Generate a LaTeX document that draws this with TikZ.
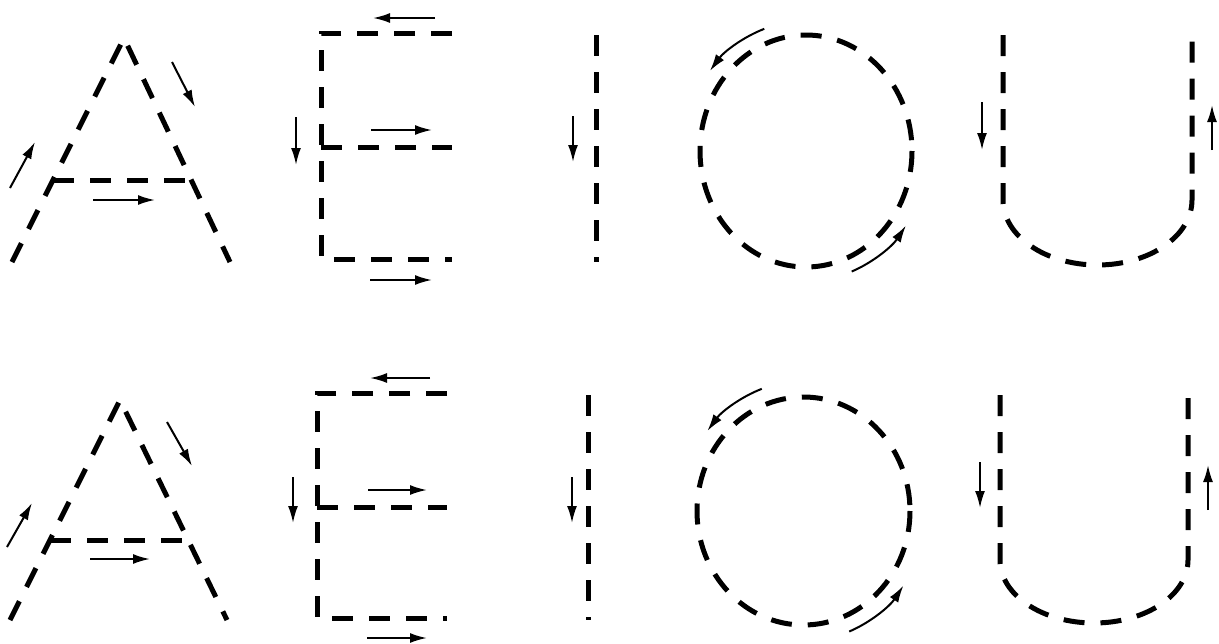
\documentclass[tikz,border=0pt]{standalone}
\usetikzlibrary{arrows.meta, calc}

\begin{document}
\begin{tikzpicture}[
  x=1pt, y=-1pt,
  letter/.style={line width=5pt, dash pattern=on 21pt off 16pt},
  dirarrow/.style={-{Latex[length=17pt, width=10pt]}, line width=2pt},
]
  \useasboundingbox (0,0) rectangle (1219,643);

  % Top row: A
  \draw[letter] (12,262) -- (124,38) -- (230,262);
  \draw[letter] (53,180) -- (191,180);
  \draw[dirarrow] (10,188) -- (35,142);
  \draw[dirarrow] (172,62) -- (195,107);
  \draw[dirarrow] (93,200) -- (155,200);

  % Top row: E
  \draw[letter] (452,33) -- (321,33) -- (321,259) -- (452,259);
  \draw[letter] (321,147) -- (452,147);
  \draw[dirarrow] (435,18) -- (373,18);
  \draw[dirarrow] (371,130) -- (432,130);
  \draw[dirarrow] (370,280) -- (432,280);
  \draw[dirarrow] (296,117) -- (296,165);

  % Top row: I
  \draw[letter] (596,35) -- (596,262);
  \draw[dirarrow] (573,116) -- (573,162);

  % Top row: O
  \coordinate (otop) at (806,151);
  \draw[letter] (otop) ellipse[x radius=106, y radius=116];
  \draw[dirarrow] ($(otop)+(250:122 and 130)$) arc[start angle=250, end angle=218, x radius=122, y radius=130];
  \draw[dirarrow] ($(otop)+(68:122 and 130)$) arc[start angle=68, end angle=35, x radius=122, y radius=130];

  % Top row: U
  \draw[letter] (1003,35) -- (1003,200) arc[start angle=180, end angle=0, x radius=94.5, y radius=65] -- (1192,35);
  \draw[dirarrow] (982,102) -- (982,150);
  \draw[dirarrow] (1212,150) -- (1212,105);

  % Bottom row: A
  \draw[letter] (10,620) -- (120,400) -- (227,620);
  \draw[letter] (50,540) -- (188,540);
  \draw[dirarrow] (7,547) -- (32,503);
  \draw[dirarrow] (167,422) -- (192,466);
  \draw[dirarrow] (90,559) -- (150,559);

  % Bottom row: E
  \draw[letter] (447,393) -- (317,393) -- (317,618) -- (447,618);
  \draw[letter] (317,507) -- (447,507);
  \draw[dirarrow] (430,378) -- (370,378);
  \draw[dirarrow] (368,490) -- (427,490);
  \draw[dirarrow] (367,638) -- (427,638);
  \draw[dirarrow] (293,477) -- (293,523);

  % Bottom row: I
  \draw[letter] (588,395) -- (588,620);
  \draw[dirarrow] (572,477) -- (572,523);

  % Bottom row: O
  \coordinate (obot) at (803.5,511);
  \draw[letter] (obot) ellipse[x radius=106.5, y radius=114];
  \draw[dirarrow] ($(obot)+(250:122 and 130)$) arc[start angle=250, end angle=218, x radius=122, y radius=130];
  \draw[dirarrow] ($(obot)+(68:122 and 130)$) arc[start angle=68, end angle=35, x radius=122, y radius=130];

  % Bottom row: U
  \draw[letter] (1000,395) -- (1000,560) arc[start angle=180, end angle=0, x radius=94, y radius=63] -- (1188,395);
  \draw[dirarrow] (980,462) -- (980,508);
  \draw[dirarrow] (1208,510) -- (1208,465);
\end{tikzpicture}
\end{document}
